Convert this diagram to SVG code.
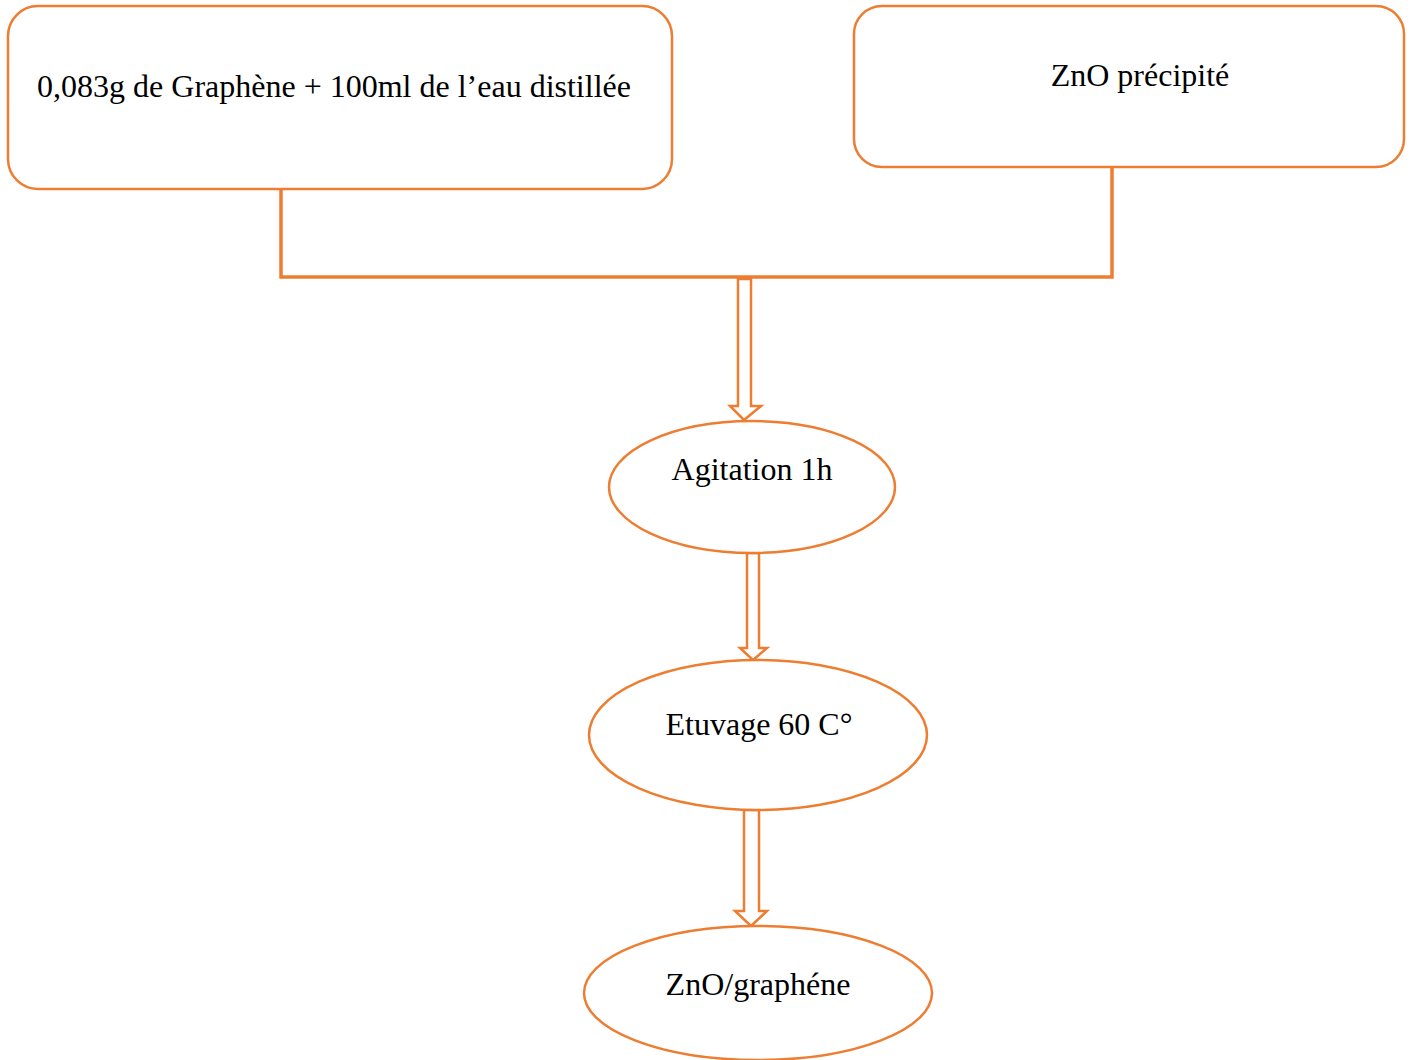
<svg xmlns="http://www.w3.org/2000/svg" width="1414" height="1060" viewBox="0 0 1414 1060">
<style>
.n{fill:#fff;stroke:#ED7D31;stroke-width:2.5}
.t{font-family:"Liberation Serif","Times New Roman",serif;font-size:32px;fill:#000}
.c{fill:none;stroke:#ED7D31;stroke-width:3.5}
.a{fill:#fff;stroke:#ED7D31;stroke-width:2.5;stroke-linejoin:miter}
</style>
<rect width="1414" height="1060" fill="#fff"/>
<g id="connectors">
<polyline class="c" points="281,189 281,277 1112,277 1112,167"/>
<path class="a" d="M738,279 L751,279 L751,406 L761,406 L744,420 L730,406 L738,406 Z"/>
<path class="a" d="M747,553 L759,553 L759,648 L767,648 L753,660 L740,648 L747,648 Z"/>
<path class="a" d="M744,810 L759,810 L759,911 L767,911 L751,926 L735,911 L744,911 Z"/>
</g>
<g id="node1">
<rect class="n" x="8" y="6" width="664" height="183" rx="30"/>
<text class="t" x="334" y="97" text-anchor="middle">0,083g de Graphène + 100ml de l’eau distillée</text>
</g>
<g id="node2">
<rect class="n" x="854" y="6" width="550" height="161" rx="28"/>
<text class="t" x="1140" y="86" text-anchor="middle">ZnO précipité</text>
</g>
<g id="node3">
<ellipse class="n" cx="752" cy="487" rx="143" ry="66"/>
<text class="t" x="752" y="480" text-anchor="middle">Agitation 1h</text>
</g>
<g id="node4">
<ellipse class="n" cx="758" cy="735" rx="169" ry="75"/>
<text class="t" x="759" y="735" text-anchor="middle">Etuvage 60 C°</text>
</g>
<g id="node5">
<ellipse class="n" cx="758" cy="993" rx="174" ry="67"/>
<text class="t" x="758" y="995" text-anchor="middle">ZnO/graphéne</text>
</g>
</svg>
